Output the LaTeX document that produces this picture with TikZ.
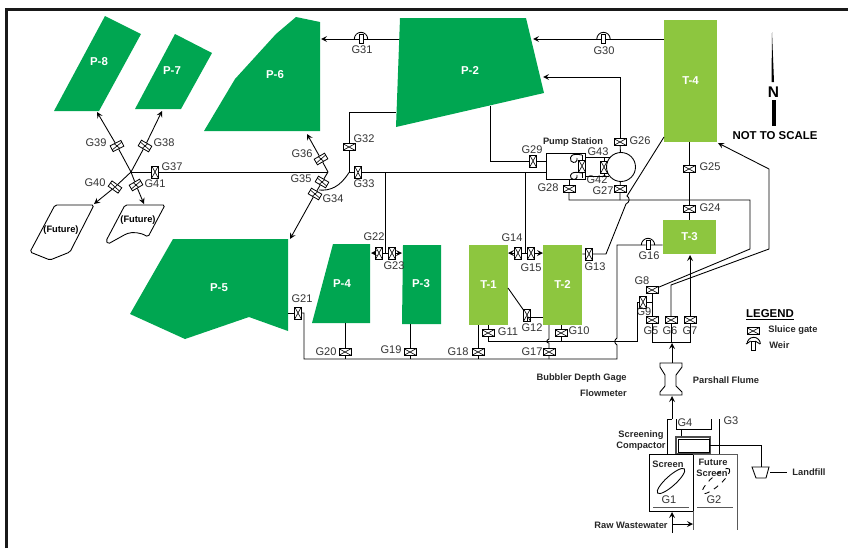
\documentclass[tikz,border=0pt]{standalone}
\usepackage{xcolor}
\usepackage{fontspec}
\setmainfont{Liberation Sans}
\definecolor{pondgreen}{HTML}{00A651}
\definecolor{tankgreen}{HTML}{8DC63F}
\definecolor{labelgray}{HTML}{333333}
\tikzset{
  pipe/.style = {line width = 0.5pt, black},
  flow/.style = {pipe, -stealth},
  gate/.style = {draw = black, fill = white, line width = 0.45pt, minimum width = 0.24cm, minimum height = 0.13cm, inner sep = 0pt,
    path picture = {\draw[line width = 0.35pt] (path picture bounding box.south west) -- (path picture bounding box.north east) (path picture bounding box.north west) -- (path picture bounding box.south east);}},
  weir/.style = {draw = black, fill = white, line width = 0.45pt, minimum width = 0.08cm, minimum height = 0.18cm, inner sep = 0pt},
  gname/.style = {inner sep = 0pt, text = labelgray, font = \fontsize{6.3}{7}\selectfont},
  bold/.style = {inner sep = 0pt, font = \fontsize{5.3}{6.4}\selectfont\bfseries, text = black!85},
  basin/.style = {inner sep = 0pt, text = white, font = \fontsize{6.5}{8}\selectfont\bfseries},
  tank/.style = {fill = tankgreen, inner sep = 0pt, text = white, font = \fontsize{6.5}{8}\selectfont\bfseries},
}
\begin{document}
\begin{tikzpicture}[x = 0.02cm, y = -0.02cm]
    \useasboundingbox (0, 0) rectangle (848, 548);
    \draw[line width = 1.2pt, black!90] (6.5, 548) -- (6.5, 9.5) -- (848, 9.5);

    % ponds
    \fill[pondgreen] (105, 16) -- (141, 34) -- (99, 111) -- (54, 111) -- cycle;
    \fill[pondgreen] (175, 34) -- (212, 53) -- (181, 109) -- (135, 109) -- cycle;
    \fill[pondgreen] (296, 17) -- (320, 22) -- (320, 131) -- (204, 131) -- (235, 79) -- (276, 34) -- cycle;
    \fill[pondgreen] (400, 18) -- (526, 18) -- (544, 93) -- (396, 127) -- cycle;
    \fill[pondgreen] (173, 239) -- (288, 239) -- (288, 331) -- (249, 317) -- (185, 339) -- (130, 314) -- cycle;
    \fill[pondgreen] (333, 244) -- (370, 244) -- (370, 323) -- (312, 323) -- cycle;
    \fill[pondgreen] (403, 245) -- (441, 245) -- (441, 324) -- (402, 324) -- cycle;
    \node[basin] (P8) at (99, 62) {P-8};
    \node[basin] (P7) at (172, 71) {P-7};
    \node[basin] (P6) at (275, 75) {P-6};
    \node[basin] (P2) at (470, 71) {P-2};
    \node[basin] (P5) at (219, 288) {P-5};
    \node[basin] (P4) at (342, 284) {P-4};
    \node[basin] (P3) at (421, 284) {P-3};

    % future ponds
    \draw[pipe, rounded corners = 1pt] (55, 205) -- (94, 205) -- (70, 252) -- (50, 260) -- (30, 252) -- cycle;
    \draw[pipe, rounded corners = 1pt] (125, 205) -- (165, 205) -- (148, 237) .. controls (140, 232) and (132, 232) .. (126, 234) -- (108, 244) -- (106, 241) -- cycle;
    \node[inner sep = 0pt, font = \fontsize{5.3}{6.4}\selectfont\bfseries] (F1) at (61, 230) {(Future)};
    \node[inner sep = 0pt, font = \fontsize{5.3}{6.4}\selectfont\bfseries] (F2) at (138, 220) {(Future)};

    % tanks
    \node[tank, minimum width = 1.06cm, minimum height = 2.44cm] (T4) at (690.5, 81) {T-4};
    \node[tank, minimum width = 1.06cm, minimum height = 0.68cm] (T3) at (689.5, 237) {T-3};
    \node[tank, minimum width = 0.78cm, minimum height = 1.6cm] (T2) at (562.5, 285) {T-2};
    \node[tank, minimum width = 0.78cm, minimum height = 1.6cm] (T1) at (488.5, 285) {T-1};

    % gates
    \node[gate, rotate = 27] (G39) at (117, 146) {};
    \node[gate, rotate = -30] (G38) at (145, 146) {};
    \node[gate, rotate = 90] (G37) at (155, 172) {};
    \node[gate, rotate = -35] (G40) at (115, 187) {};
    \node[gate, rotate = 30] (G41) at (136, 185) {};
    \node[gate, rotate = 30] (G36) at (321, 159) {};
    \node[gate, rotate = -30] (G35) at (322, 182) {};
    \node[gate, rotate = -30] (G34) at (315, 194) {};
    \node[gate, rotate = 90] (G33) at (358, 172.5) {};
    \node[gate] (G32) at (349, 147) {};
    \node[gate, rotate = 90] (G29) at (533, 161) {};
    \node[gate] (G28) at (569, 189) {};
    \node[gate] (G27) at (620, 189) {};
    \node[gate] (G26) at (620, 142) {};
    \node[gate] (G25) at (689, 169) {};
    \node[gate] (G24) at (689, 209) {};
    \node[gate, rotate = 90] (G43) at (582, 166) {};
    \node[gate, rotate = 90] (G42) at (604, 167) {};
    \node[gate, rotate = 90] (G22) at (379, 253) {};
    \node[gate, rotate = 90] (G23) at (392, 253) {};
    \node[gate, rotate = 90] (G21) at (298, 313) {};
    \node[gate] (G20) at (345, 352) {};
    \node[gate] (G19) at (410, 352) {};
    \node[gate] (G18) at (478, 352) {};
    \node[gate] (G17) at (549, 352) {};
    \node[gate, rotate = 90] (G14) at (518, 253) {};
    \node[gate, rotate = 90] (G15) at (531, 253) {};
    \node[gate, rotate = 90] (G13) at (589, 254) {};
    \node[gate, rotate = 90] (G12) at (527, 315) {};
    \node[gate] (G11) at (488, 333) {};
    \node[gate] (G10) at (561, 333) {};
    \node[gate] (G8) at (652, 290) {};
    \node[gate, rotate = 90] (G9) at (643, 302) {};
    \node[gate] (G5) at (652, 320) {};
    \node[gate] (G6) at (671, 320) {};
    \node[gate] (G7) at (690, 320) {};

    % weirs
    \node[weir] (G31) at (361, 39) {};
    \node[weir] (G30) at (603.5, 39) {};
    \node[weir] (G16) at (648, 245) {};
    \node[weir] (WeirKey) at (753, 346) {};
    \draw[pipe] (G31.center) ++(-3.8pt, 0) arc[start angle = 180, end angle = 0, radius = 3.8pt];
    \draw[pipe] (G30.center) ++(-3.8pt, 0) arc[start angle = 180, end angle = 0, radius = 3.8pt];
    \draw[pipe] (G16.center) ++(-3.8pt, 0) arc[start angle = 180, end angle = 0, radius = 3.8pt];
    \draw[pipe] (747, 344) arc[start angle = 180, end angle = 0, radius = 3.8pt];
    \draw[pipe] (746, 344) -- (WeirKey.north west);
    \draw[pipe] (WeirKey.north east) -- (760, 344);

    % gate names
    \node[gname] (N39) at (96, 143) {G39};
    \node[gname] (N38) at (164, 143) {G38};
    \node[gname] (N37) at (172, 167) {G37};
    \node[gname] (N40) at (95, 183) {G40};
    \node[gname] (N41) at (155, 184) {G41};
    \node[gname] (N36) at (302, 154) {G36};
    \node[gname] (N35) at (301, 179) {G35};
    \node[gname] (N34) at (333, 199) {G34};
    \node[gname] (N33) at (364, 184) {G33};
    \node[gname] (N32) at (364, 139) {G32};
    \node[gname] (N31) at (362, 50) {G31};
    \node[gname] (N30) at (604, 51) {G30};
    \node[gname] (N29) at (532, 150) {G29};
    \node[gname] (N28) at (548, 188) {G28};
    \node[gname] (N27) at (603, 191) {G27};
    \node[gname] (N26) at (640, 141) {G26};
    \node[gname] (N43) at (598, 152) {G43};
    \node[gname] (N42) at (597, 180) {G42};
    \node[gname] (N25) at (710, 167) {G25};
    \node[gname] (N24) at (710, 208) {G24};
    \node[gname] (N22) at (374, 237) {G22};
    \node[gname] (N23) at (394, 266) {G23};
    \node[gname] (N21) at (302, 299) {G21};
    \node[gname] (N20) at (326, 352) {G20};
    \node[gname] (N19) at (391, 350) {G19};
    \node[gname] (N18) at (458, 352) {G18};
    \node[gname] (N17) at (532, 352) {G17};
    \node[gname] (N16) at (649, 256) {G16};
    \node[gname] (N15) at (531, 268) {G15};
    \node[gname] (N14) at (512, 238) {G14};
    \node[gname] (N13) at (595, 267) {G13};
    \node[gname] (N12) at (532, 328) {G12};
    \node[gname] (N11) at (508, 332) {G11};
    \node[gname] (N10) at (579, 331) {G10};
    \node[gname] (N9) at (644, 312) {G9};
    \node[gname] (N8) at (642, 281) {G8};
    \node[gname] (N7) at (690, 331) {G7};
    \node[gname] (N6) at (670, 331) {G6};
    \node[gname] (N5) at (651, 331) {G5};
    \node[gname] (N4) at (685, 423) {G4};
    \node[gname] (N3) at (731, 421) {G3};
    \node[gname] (N2) at (714, 500) {G2};
    \node[gname] (N1) at (669, 500) {G1};

    % pump station
    \node[draw = black, line width = 0.5pt, minimum width = 0.78cm, minimum height = 0.52cm, inner sep = 0pt] (PS) at (565.5, 166) {};
    \node[draw = black, line width = 0.5pt, fill = white, circle, minimum size = 0.58cm, inner sep = 0pt] (Pump) at (621, 167) {};
    \node[bold] (PSN) at (573, 142) {Pump Station};
    \draw[pipe] (585, 157) -- (610, 157);
    \draw[pipe] (585, 176) -- (609, 176);
    \draw[pipe] (582, 155) .. controls (572, 153) and (569, 156) .. (571, 161) .. controls (574, 164) and (578, 162) .. (577, 158);
    \draw[pipe] (582, 173) .. controls (572, 171) and (569, 174) .. (571, 178) .. controls (574, 181) and (578, 179) .. (577, 175);
    \draw[pipe] (582, 155) -- (G43);
    \draw[pipe] (G43) -- (582, 178);
    \draw[pipe] (G42) -- (604, 157);
    \draw[pipe] (G42) -- (604, 176);

    % return and transfer lines
    \coordinate (J1) at (131, 172);
    \coordinate (J2) at (328, 172);
    \coordinate (J3) at (349, 172.5);
    \coordinate (J4) at (385, 172.5);
    \coordinate (J5) at (525, 172.5);
    \coordinate (J6) at (385, 253);
    \coordinate (J7) at (525, 253);
    \draw[flow] (G31) -- (321, 39);
    \draw[pipe] (399, 39) -- (G31);
    \draw[flow] (G30) -- (533, 39);
    \draw[pipe] (T4.west |- G30) -- (G30);
    \draw[flow] (G26) -- (620, 77) -- (543, 77);
    \draw[pipe] (G26) -- (Pump);
    \draw[pipe] (490, 106) -- (490, 161) -- (G29);
    \draw[pipe] (G29) -- (PS.west |- G29);
    \draw[pipe] (J3) -- (G33) -- (PS.west |- J3);
    \draw[pipe] (396, 112) -- (349, 112) -- (G32);
    \draw[pipe] (G32) -- (J3);
    \draw[pipe] (J3) .. controls (340, 187) and (330, 191) .. (319, 190);
    \draw[pipe] (J1) -- (G37) -- (J2);
    \draw[flow] (J2) -- (G36) -- (307, 134);
    \draw[pipe] (J2) -- (G35);
    \draw[pipe] (G35) -- (G34);
    \draw[flow] (G34) -- (290, 239);
    \draw[flow] (J1) -- (G39) -- (97, 112);
    \draw[flow] (J1) -- (G38) -- (162, 111);
    \draw[flow] (J1) -- (G40) -- (94, 204);
    \draw[flow] (J1) -- (G41) -- (144, 204);
    \draw[pipe] (J4) -- (J6);
    \draw[flow] (J6) -- (G22) -- (371, 253);
    \draw[flow] (J6) -- (G23) -- (402, 253);
    \draw[pipe] (J5) -- (J7);
    \draw[flow] (J7) -- (G14) -- (508, 253);
    \draw[flow] (J7) -- (G15) -- (543, 253);

    % tank outlets
    \draw[pipe] (T4.south -| G25) -- (G25) -- (G24) -- (T3.north -| G24);
    \draw[pipe] (T2.east |- G13) -- (G13) -- (606, 254) -- (626, 204) .. controls (630, 202) and (630, 198) .. (627, 196) -- (664, 137);
    \draw[pipe] (T3.west |- G16) -- (G16) -- (617, 245) -- (617, 338) .. controls (614, 340) and (614, 343) .. (617, 345) -- (617, 359) -- (304, 359) -- (304, 313) -- (G21);
    \draw[pipe] (G21) -- (288, 313);
    \draw[pipe] (345, 323) -- (G20) -- (345, 359);
    \draw[pipe] (410, 324) -- (G19) -- (410, 359);
    \draw[pipe] (478, 325) -- (G18) -- (478, 359);
    \draw[pipe] (549, 325) -- (549, 339) .. controls (546, 340) and (546, 343) .. (549, 343) -- (G17) -- (549, 359);
    \draw[pipe] (T1.south -| G11) -- (G11) -- (488, 341) -- (637, 341) -- (637, 302) -- (G9);
    \draw[pipe] (T2.south -| G10) -- (G10) -- (561, 341);
    \draw[pipe] (508, 288) -- (G12);
    \draw[pipe] (G12) -- (527, 317) -- (T2.west |- 527, 317);

    % pump return and influent splits
    \draw[pipe] (G28) -- (569, 200) -- (750, 200) -- (750, 249) -- (G8);
    \draw[pipe] (PS.south -| G28) -- (G28);
    \draw[pipe] (Pump) -- (G27) -- (620, 200);
    \draw[pipe] (G9) -- (652, 302);
    \draw[pipe] (G8) -- (G5) -- (652, 342) -- (690, 342) -- (G7);
    \draw[flow] (G7) -- (690, 255);
    \draw[flow] (G6) -- (671, 285) -- (769, 249) -- (769, 169) -- (718, 143);
    \draw[pipe] (671, 342) -- (G6);

    % headworks
    \draw[flow] (672, 363) -- (672, 343);
    \draw[pipe, fill = white] (660, 363) -- (682, 363) -- (682, 367) -- (676, 375) -- (676, 386) -- (682, 392) -- (682, 395) -- (660, 395) -- (660, 392) -- (665, 386) -- (665, 375) -- (660, 367) -- cycle;
    \draw[flow] (672, 419) -- (672, 396);
    \draw[pipe] (667, 454) -- (667, 419) -- (672, 419);
    \draw[pipe] (676, 419) -- (676, 429) -- (711, 429) -- (711, 419);
    \draw[pipe] (719, 419) -- (719, 454);
    \draw[pipe] (681, 429) -- (681, 437);
    \draw[line width = 0.6pt, black!70] (676, 437) rectangle (710, 454);
    \draw[pipe] (678, 439) rectangle (709, 452);
    \draw[pipe] (710, 445) -- (761, 445) -- (761, 467);
    \draw[pipe] (752, 467) -- (769, 467) -- (766, 478) -- (756, 478) -- cycle;
    \draw[pipe] (770, 472) -- (787, 472);
    \draw[pipe] (649, 454) rectangle (693, 511);
    \draw[black!65, line width = 0.5pt] (693, 511) -- (693, 530);
    \draw[black!65, line width = 0.5pt] (693, 454) -- (737, 454) -- (737, 530);
    \draw[black!65, line width = 0.5pt] (653, 507) -- (689, 507);
    \draw[black!65, line width = 0.5pt] (697, 507) -- (733, 507);
    \draw[pipe, rotate around = {42 : (671, 481)}] (671, 481) ellipse (18 and 5);
    \draw[pipe, dashed, rotate around = {42 : (716, 481)}] (716, 481) ellipse (18 and 5);
    \draw[flow] (672, 533) -- (672, 512);
    \draw[flow] (672, 524) -- (693, 524);

    % text
    \node[bold, anchor = east] (Bubbler) at (627, 378) {Bubbler Depth Gage};
    \node[bold, anchor = east] (Flowmeter) at (627, 393) {Flowmeter};
    \node[bold] (Flume) at (726, 380) {Parshall Flume};
    \node[bold] (Screening) at (641, 435) {Screening};
    \node[bold] (Compactor) at (641, 446) {Compactor};
    \node[bold] (Screen) at (668, 464) {Screen};
    \node[bold] (Future) at (713, 462) {Future};
    \node[bold] (FScreen) at (712, 473) {Screen};
    \node[bold] (Landfill) at (809, 472) {Landfill};
    \node[bold] (Raw) at (631, 525) {Raw Wastewater};

    % north arrow
    \fill[black] (772, 32) -- (771.5, 82) -- (774, 82) -- cycle;
    \fill[black] (772, 100) rectangle (775.5, 126);
    \node[inner sep = 0pt, font = \fontsize{8.8}{10}\selectfont\bfseries] (North) at (773.5, 92.5) {N};
    \node[inner sep = 0pt, font = \fontsize{6.5}{8}\selectfont\bfseries] (Scale) at (775, 136) {NOT TO SCALE};

    % legend
    \node[inner sep = 0pt, font = \fontsize{6.5}{8}\selectfont\bfseries] (Legend) at (770, 315) {\underline{LEGEND}};
    \node[gate] (GateKey) at (753, 331) {};
    \node[bold, anchor = west] (GateText) at (768, 330) {Sluice gate};
    \node[bold, anchor = west] (WeirText) at (769, 345) {Weir};
\end{tikzpicture}
\end{document}
